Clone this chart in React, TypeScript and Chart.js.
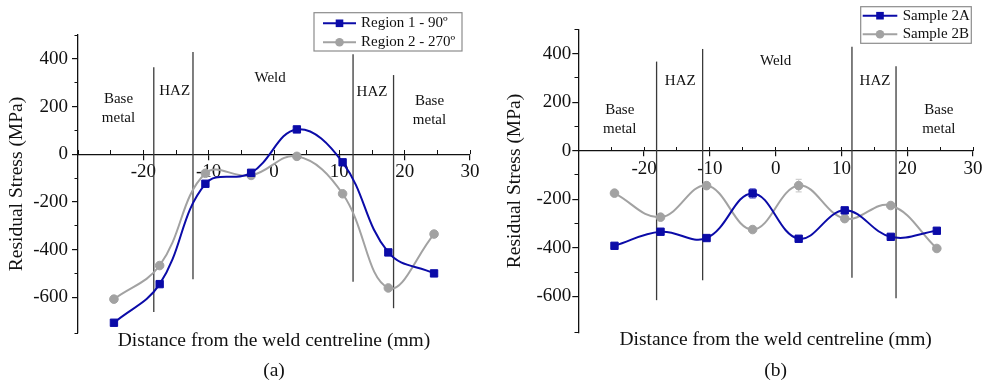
import React, { useEffect, useRef } from 'react';
import { Chart, registerables } from 'chart.js';

Chart.register(...registerables);

const FONT = '"Liberation Serif", "Times New Roman", Times, serif';

// ---- data ----
const distances = [-24.5, -17.5, -10.5, -3.5, 3.5, 10.5, 17.5, 24.5];
const region1 = [-707, -545, -124, -78, 104, -34, -412, -500];
const region2 = [-608, -467, -80, -89, -9, -166, -561, -335];
const sample2A = [-392, -334, -360, -176, -363, -246, -355, -330];
const sample2B = [-175, -274, -144, -325, -144, -280, -226, -403];
const err2A = [0, 0, 0, 20, 10, 0, 0, 0];
const err2B = [0, 0, 10, 0, 26, 0, 0, 0];

const xRange = [-30, 30];
const yRange = [-750, 500];
const xTickValues = [-20, -10, 0, 10, 20, 30];
const yTickValues = [-600, -400, -200, 0, 200, 400];

const zonesA = [
  { x: -18.4, from: -662, to: 365 },
  { x: -12.4, from: -525, to: 429 },
  { x: 12.1, from: -535, to: 419 },
  { x: 18.3, from: -646, to: 332 },
];
const zonesB = [
  { x: -18.1, from: -616, to: 367 },
  { x: -11.1, from: -534, to: 419 },
  { x: 11.6, from: -524, to: 428 },
  { x: 18.3, from: -608, to: 348 },
];
const zoneLabelsA = [
  { lines: ['Base', 'metal'], x: -23.8, y: 192 },
  { lines: ['HAZ'], x: -15.2, y: 266 },
  { lines: ['Weld'], x: -0.6, y: 321 },
  { lines: ['HAZ'], x: 15.0, y: 262 },
  { lines: ['Base', 'metal'], x: 23.8, y: 183 },
];
const zoneLabelsB = [
  { lines: ['Base', 'metal'], x: -23.7, y: 130 },
  { lines: ['HAZ'], x: -14.5, y: 287 },
  { lines: ['Weld'], x: 0.0, y: 370 },
  { lines: ['HAZ'], x: 15.1, y: 287 },
  { lines: ['Base', 'metal'], x: 24.8, y: 128 },
];

const X_TITLE = 'Distance from the weld centreline (mm)';
const Y_TITLE = 'Residual Stress (MPa)';

const BLUE = '#0b0ba8';
const GRAY = '#a2a2a2';
const INK = '#111111';

type Series = { label: string; values: number[]; errors?: number[]; color: string; errColor?: string; marker: 'rect' | 'circle' };

const panelA = {
  key: 'a',
  caption: '(a)',
  series: [
    { label: 'Region 1 - 90º', values: region1, color: BLUE, marker: 'rect' },
    { label: 'Region 2 - 270º', values: region2, color: GRAY, marker: 'circle' },
  ] as Series[],
  zones: zonesA,
  labels: zoneLabelsA,
  lay: { padTop: 35, padRight: 24, yAxisW: 78, yTickPad: 4, yTitlePadTop: 5.6, xAxisH: 22.6, xTitlePadB: 3.4, xTickPad: 1 },
  legend: { x: 314, y: 12.7, w: 148, h: 38.3, padL: 9, lineLen: 33, gap: 5, firstRow: 10.6, rowH: 19 },
};

const panelB = {
  key: 'b',
  caption: '(b)',
  series: [
    { label: 'Sample 2A', values: sample2A, errors: err2A, color: BLUE, errColor: '#7a7ad8', marker: 'rect' },
    { label: 'Sample 2B', values: sample2B, errors: err2B, color: GRAY, errColor: '#cfcfcf', marker: 'circle' },
  ] as Series[],
  zones: zonesB,
  labels: zoneLabelsB,
  lay: { padTop: 29.3, padRight: 15, yAxisW: 84.3, yTickPad: 1, yTitlePadTop: 9, xAxisH: 22.9, xTitlePadB: 3.9, xTickPad: 2 },
  legend: { x: 366.7, y: 6.7, w: 110.6, h: 36.6, padL: 2, lineLen: 34.6, gap: 5.4, firstRow: 9, rowH: 18.6 },
};

type Panel = typeof panelA;

function drawMarker(ctx: CanvasRenderingContext2D, marker: string, x: number, y: number, color: string) {
  ctx.fillStyle = color;
  if (marker === 'rect') {
    ctx.fillRect(x - 3.8, y - 3.8, 7.6, 7.6);
  } else {
    ctx.beginPath();
    ctx.arc(x, y, 4.3, 0, Math.PI * 2);
    ctx.fill();
  }
}

function makeOverlay(p: Panel) {
  return {
    id: 'overlay_' + p.key,
    beforeDatasetsDraw(chart: any) {
      const ctx: CanvasRenderingContext2D = chart.ctx;
      const xs = chart.scales.x;
      const ys = chart.scales.y;
      ctx.save();
      ctx.strokeStyle = '#3a3a3a';
      ctx.lineWidth = 1.3;
      for (const z of p.zones) {
        const px = xs.getPixelForValue(z.x);
        ctx.beginPath();
        ctx.moveTo(px, ys.getPixelForValue(z.to));
        ctx.lineTo(px, ys.getPixelForValue(z.from));
        ctx.stroke();
      }
      // error bars
      for (const s of p.series) {
        if (!s.errors) continue;
        ctx.strokeStyle = s.errColor || s.color;
        ctx.lineWidth = 1.2;
        s.errors.forEach((e, i) => {
          if (!e) return;
          const px = xs.getPixelForValue(distances[i]);
          const yt = ys.getPixelForValue(s.values[i] + e);
          const yb = ys.getPixelForValue(s.values[i] - e);
          ctx.beginPath();
          ctx.moveTo(px, yt);
          ctx.lineTo(px, yb);
          ctx.moveTo(px - 3, yt);
          ctx.lineTo(px + 3, yt);
          ctx.moveTo(px - 3, yb);
          ctx.lineTo(px + 3, yb);
          ctx.stroke();
        });
      }
      ctx.restore();
    },
    afterDatasetsDraw(chart: any) {
      const ctx: CanvasRenderingContext2D = chart.ctx;
      const xs = chart.scales.x;
      const ys = chart.scales.y;
      ctx.save();
      ctx.fillStyle = INK;
      ctx.font = `15px ${FONT}`;
      ctx.textAlign = 'center';
      ctx.textBaseline = 'middle';
      for (const l of p.labels) {
        const cx = xs.getPixelForValue(l.x);
        const cy = ys.getPixelForValue(l.y);
        const n = l.lines.length;
        l.lines.forEach((t, i) => {
          ctx.fillText(t, cx, cy + (i - (n - 1) / 2) * 19);
        });
      }
      // legend
      const L = p.legend;
      ctx.fillStyle = '#ffffff';
      ctx.fillRect(L.x, L.y, L.w, L.h);
      ctx.strokeStyle = '#8c8c8c';
      ctx.lineWidth = 1.2;
      ctx.strokeRect(L.x, L.y, L.w, L.h);
      ctx.textAlign = 'left';
      p.series.forEach((s, i) => {
        const cy = L.y + L.firstRow + i * L.rowH;
        const x0 = L.x + L.padL;
        const x1 = x0 + L.lineLen;
        ctx.strokeStyle = s.color;
        ctx.lineWidth = 2;
        ctx.beginPath();
        ctx.moveTo(x0, cy);
        ctx.lineTo(x1, cy);
        ctx.stroke();
        drawMarker(ctx, s.marker, (x0 + x1) / 2, cy, s.color);
        ctx.fillStyle = INK;
        ctx.fillText(s.label, x1 + L.gap, cy);
      });
      ctx.restore();
    },
  };
}

function buildConfig(p: Panel): any {
  const tickFont = { family: FONT, size: 19, weight: 'normal' as const };
  const titleFont = { family: FONT, size: 19.5, weight: 'normal' as const };
  return {
    type: 'line',
    data: {
      datasets: p.series.map((s) => ({
        label: s.label,
        data: distances.map((x, i) => ({ x, y: s.values[i] })),
        borderColor: s.color,
        backgroundColor: s.color,
        pointBackgroundColor: s.color,
        pointBorderColor: s.color,
        pointBorderWidth: 1,
        borderWidth: 2,
        tension: 0.4,
        pointStyle: s.marker,
        pointRadius: s.marker === 'rect' ? 5.2 : 4.3,
        clip: false,
      })),
    },
    options: {
      responsive: false,
      animation: false,
      events: [],
      layout: { padding: { left: 0, right: p.lay.padRight, top: p.lay.padTop, bottom: 0 } },
      plugins: {
        legend: { display: false },
        tooltip: { enabled: false },
        title: {
          display: true,
          position: 'bottom',
          text: p.caption,
          fullSize: false,
          color: INK,
          font: titleFont,
          padding: { top: 4, bottom: 3 },
        },
      },
      scales: {
        x: {
          type: 'linear',
          position: 'bottom',
          min: xRange[0],
          max: xRange[1],
          grid: { display: false },
          border: { display: false },
          ticks: { display: false },
          title: { display: true, text: X_TITLE, color: INK, font: titleFont, padding: { top: 0, bottom: p.lay.xTitlePadB } },
          afterFit: (s: any) => {
            s.height = p.lay.xAxisH;
          },
        },
        xz: {
          type: 'linear',
          position: { y: 0 },
          min: xRange[0],
          max: xRange[1],
          afterBuildTicks: (s: any) => {
            s.ticks = xTickValues.map((v) => ({ value: v }));
          },
          grid: { drawOnChartArea: false, drawTicks: true, tickLength: 5, color: INK, lineWidth: 1.2 },
          border: { display: true, color: INK, width: 1.3 },
          ticks: { color: INK, font: tickFont, padding: p.lay.xTickPad, autoSkip: false, maxRotation: 0 },
        },
        xm: {
          type: 'linear',
          position: { y: 0 },
          min: xRange[0],
          max: xRange[1],
          ticks: { display: false, stepSize: 5 },
          grid: { drawOnChartArea: false, drawTicks: true, tickLength: -4, color: INK, lineWidth: 1 },
          border: { display: false },
        },
        y: {
          type: 'linear',
          position: 'left',
          min: yRange[0],
          max: yRange[1],
          afterBuildTicks: (s: any) => {
            s.ticks = yTickValues.map((v) => ({ value: v }));
          },
          afterFit: (s: any) => {
            s.width = p.lay.yAxisW;
          },
          grid: { drawOnChartArea: false, drawTicks: true, tickLength: 6, color: INK, lineWidth: 1.2 },
          border: { display: true, color: INK, width: 1.3 },
          ticks: { color: INK, font: tickFont, padding: p.lay.yTickPad },
          title: { display: true, text: Y_TITLE, color: INK, font: titleFont, padding: { top: p.lay.yTitlePadTop, bottom: 0 } },
        },
        ym: {
          type: 'linear',
          position: { x: xRange[0] },
          min: yRange[0],
          max: yRange[1],
          ticks: { display: false, stepSize: 100 },
          grid: { drawOnChartArea: false, drawTicks: true, tickLength: 3.5, color: INK, lineWidth: 1 },
          border: { display: false },
        },
      },
    },
    plugins: [makeOverlay(p)],
  };
}

function PanelChart({ spec }: { spec: Panel }) {
  const ref = useRef<HTMLCanvasElement>(null);
  useEffect(() => {
    const chart = new Chart(ref.current as HTMLCanvasElement, buildConfig(spec));
    return () => chart.destroy();
  }, [spec]);
  return <canvas ref={ref} width={494} height={386} style={{ width: 494, height: 386, display: 'block' }} />;
}

export default function App() {
  return (
    <div style={{ position: 'absolute', left: 0, top: 0, width: 988, height: 386, display: 'flex', background: '#ffffff' }}>
      <PanelChart spec={panelA} />
      <PanelChart spec={panelB} />
    </div>
  );
}
